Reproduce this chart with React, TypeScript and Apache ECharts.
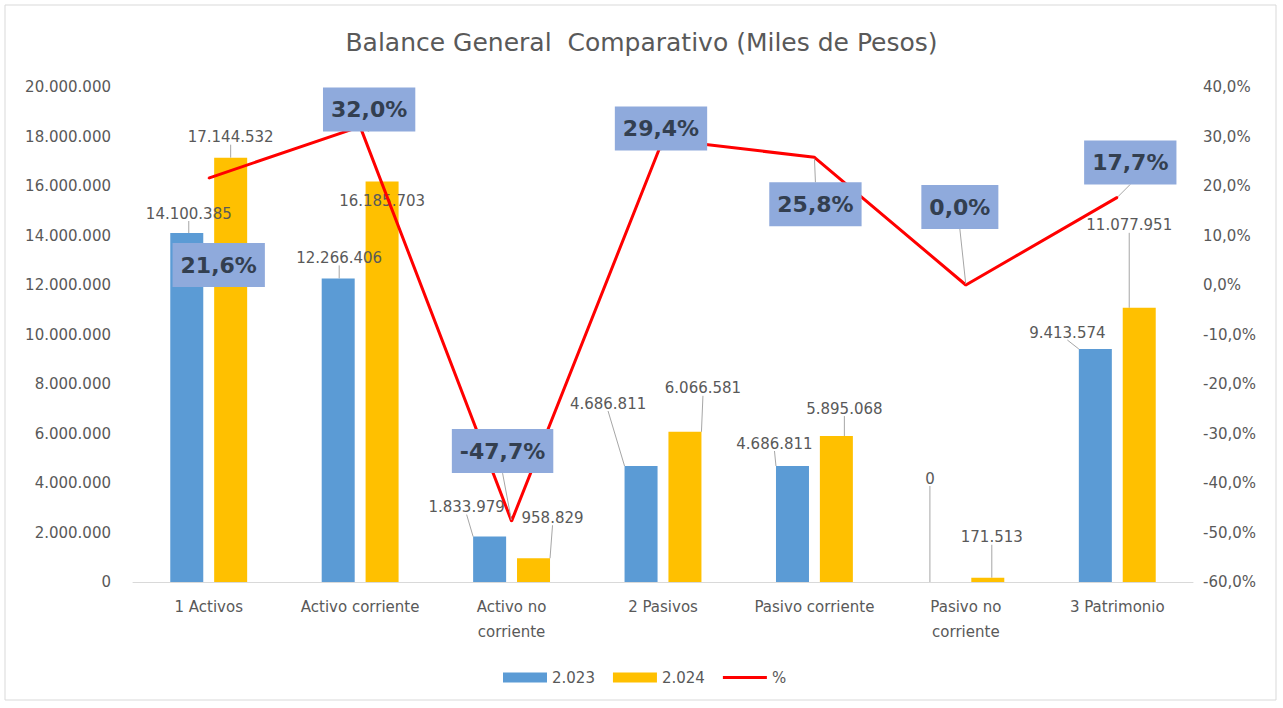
import React, { useEffect, useRef } from 'react';
import * as echarts from 'echarts';

const categories = [
  '1 Activos',
  'Activo corriente',
  'Activo no\ncorriente',
  '2 Pasivos',
  'Pasivo corriente',
  'Pasivo no\ncorriente',
  '3 Patrimonio',
];
const values2023 = [14100385, 12266406, 1833979, 4686811, 4686811, 0, 9413574];
const values2024 = [17144532, 16185703, 958829, 6066581, 5895068, 171513, 11077951];
const pctChange = [21.6, 32.0, -47.7, 29.4, 25.8, 0.0, 17.7];
const seriesNames = ['2.023', '2.024', '%'];

// label placement offsets (px), relative to each label's default position
const offs2023 = [[2, -7], [1, -8], [-23, -17], [-33, -50], [-18, -10], [-14, -91], [-28, -4]];
const offs2024 = [[0, -8], [0, 32], [19, -28], [18, -31], [8, -15], [4, -28], [-10, -70]];
const offsPct = [[10, 87], [9, -17], [-9, -70], [-2, -11], [1, 47], [-6, -78], [13, -35]];

const FONT = 'DejaVu Sans';
const GREY = '#595959';

const fmtThousands = (v: number) =>
  Math.round(v).toString().replace(/\B(?=(\d{3})+(?!\d))/g, '.');
const fmtPct = (v: number) => v.toFixed(1).replace('.', ',') + '%';

export default function App() {
  const ref = useRef<HTMLDivElement>(null);

  useEffect(() => {
    if (!ref.current) return;
    const chart = echarts.init(ref.current, undefined, { renderer: 'svg' });

    const pctData = pctChange.map((v, i) =>
      i === 0 ? { value: v, labelLine: { show: false } } : v
    );

    const barLabel = {
      show: true,
      position: 'top',
      distance: 5,
      color: GREY,
      fontSize: 15,
      fontFamily: FONT,
      formatter: (p: any) => fmtThousands(p.value),
    };
    const leader = { show: true, lineStyle: { color: '#A6A6A6', width: 1 } };

    chart.setOption({
      animation: false,
      backgroundColor: '#ffffff',
      textStyle: { fontFamily: FONT },
      title: {
        text: 'Balance General  Comparativo (Miles de Pesos)',
        left: 'center',
        top: 30,
        padding: 0,
        textStyle: { fontFamily: FONT, fontSize: 25, fontWeight: 'normal', color: GREY },
      },
      graphic: [
        {
          type: 'rect',
          shape: { x: 5, y: 5, width: 1271, height: 695 },
          style: { fill: 'none', stroke: '#D9D9D9', lineWidth: 1 },
          silent: true,
          z: -1,
        },
      ],
      legend: {
        left: 498,
        top: 665,
        itemWidth: 44,
        itemHeight: 10,
        itemGap: 18,
        textStyle: { fontFamily: FONT, fontSize: 15, color: GREY },
        data: [
          { name: seriesNames[0], icon: 'rect' },
          { name: seriesNames[1], icon: 'rect' },
          { name: seriesNames[2], icon: 'path://M0,0L44,0L44,3L0,3Z' },
        ],
      },
      grid: { left: 133, right: 90, top: 87, bottom: 126, containLabel: false },
      xAxis: {
        type: 'category',
        data: categories,
        axisLine: { show: true, lineStyle: { color: '#D9D9D9', width: 1 } },
        axisTick: { show: false },
        axisLabel: {
          interval: 0,
          margin: 12,
          color: GREY,
          fontSize: 15,
          lineHeight: 25,
          fontFamily: FONT,
        },
      },
      yAxis: [
        {
          type: 'value',
          min: 0,
          max: 20000000,
          interval: 2000000,
          splitLine: { show: false },
          axisLine: { show: false },
          axisTick: { show: false },
          axisLabel: {
            margin: 22,
            color: GREY,
            fontSize: 15,
            fontFamily: FONT,
            formatter: (v: number) => fmtThousands(v),
          },
        },
        {
          type: 'value',
          min: -60,
          max: 40,
          interval: 10,
          splitLine: { show: false },
          axisLine: { show: false },
          axisTick: { show: false },
          axisLabel: {
            margin: 10,
            color: GREY,
            fontSize: 15,
            fontFamily: FONT,
            formatter: (v: number) => fmtPct(v),
          },
        },
      ],
      series: [
        {
          name: seriesNames[0],
          type: 'bar',
          yAxisIndex: 0,
          data: values2023,
          barWidth: 33,
          barGap: '33%',
          itemStyle: { color: '#5B9BD5' },
          label: barLabel,
          labelLine: leader,
          labelLayout: (p: any) => ({ dx: offs2023[p.dataIndex][0], dy: offs2023[p.dataIndex][1] }),
          z: 2,
        },
        {
          name: seriesNames[1],
          type: 'bar',
          yAxisIndex: 0,
          data: values2024,
          barWidth: 33,
          barGap: '33%',
          itemStyle: { color: '#FFC000' },
          label: barLabel,
          labelLine: leader,
          labelLayout: (p: any) => ({ dx: offs2024[p.dataIndex][0], dy: offs2024[p.dataIndex][1] }),
          z: 2,
        },
        {
          name: seriesNames[2],
          type: 'line',
          yAxisIndex: 1,
          data: pctData,
          symbol: 'circle',
          symbolSize: 2,
          lineStyle: { color: '#FF0000', width: 3 },
          itemStyle: { color: '#FF0000' },
          label: {
            show: true,
            position: 'inside',
            fontFamily: FONT,
            fontSize: 22,
            fontWeight: 'bold',
            color: '#333F50',
            backgroundColor: '#8FAADC',
            padding: [9, 8, 8, 8],
            lineHeight: 27,
            formatter: (p: any) => fmtPct(p.value),
          },
          labelLine: leader,
          labelLayout: (p: any) => ({ dx: offsPct[p.dataIndex][0], dy: offsPct[p.dataIndex][1] }),
          z: 5,
        },
      ],
    });

    return () => chart.dispose();
  }, []);

  return (
    <div
      ref={ref}
      style={{ position: 'fixed', left: 0, top: 0, width: 1283, height: 708, background: '#fff' }}
    />
  );
}
